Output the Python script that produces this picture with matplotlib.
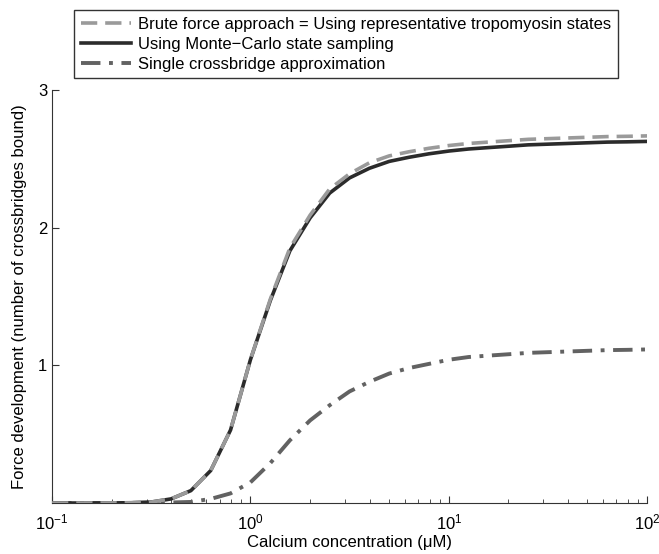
#importing libraries
import numpy as np
import matplotlib.pyplot as plt

plt.rcParams['font.family'] = ['Liberation Sans', 'DejaVu Sans']
plt.rcParams['mathtext.fontset'] = 'custom'
plt.rcParams['mathtext.rm'] = 'Liberation Sans'

#calcium concentrations (uM), ten per decade
calcium = [0.1, 0.126, 0.158, 0.2, 0.251, 0.316, 0.398, 0.501, 0.631, 0.794,
           1.0, 1.26, 1.58, 2.0, 2.51, 3.16, 3.98, 5.01, 6.31, 7.94,
           10.0, 12.6, 15.8, 20.0, 25.1, 31.6, 39.8, 50.1, 63.1, 79.4, 100.0]

#force (number of crossbridges bound)
brute_force = [0, 0, 0, 0.001, 0.002, 0.007, 0.03, 0.09, 0.236, 0.53,
               1.04, 1.48, 1.85, 2.09, 2.28, 2.39, 2.47, 2.52, 2.55, 2.575,
               2.595, 2.61, 2.62, 2.63, 2.64, 2.645, 2.65, 2.655, 2.66, 2.662, 2.665]
monte_carlo = [0, 0, 0, 0.001, 0.002, 0.007, 0.03, 0.09, 0.236, 0.53,
               1.04, 1.47, 1.83, 2.07, 2.25, 2.36, 2.43, 2.48, 2.51, 2.535,
               2.555, 2.57, 2.58, 2.59, 2.60, 2.605, 2.61, 2.615, 2.62, 2.622, 2.625]
single_xb = [0, 0, 0, 0, 0.001, 0.002, 0.004, 0.008, 0.03, 0.07,
             0.15, 0.29, 0.455, 0.60, 0.71, 0.81, 0.88, 0.94, 0.98, 1.01,
             1.04, 1.06, 1.07, 1.08, 1.09, 1.095, 1.10, 1.105, 1.11, 1.112, 1.115]

labels = ['Brute force approach = Using representative tropomyosin states',
          'Using Monte\u2212Carlo state sampling',
          'Single crossbridge approximation']

fig = plt.figure(figsize=(6.59, 5.54), dpi=100)
ax = fig.add_axes([0.079, 0.092, 0.903, 0.746])

#plotting curves
l2, = ax.plot(calcium, monte_carlo, color='#2b2b2b', lw=2.6, zorder=3)
l1, = ax.plot(calcium, brute_force, color='#9a9a9a', lw=2.6, ls=(0, (4.5, 2.2)), zorder=4)
l3, = ax.plot(calcium, single_xb, color='#626262', lw=2.8, ls=(0, (5, 2.2, 1, 2.2)), zorder=2)

ax.set_xscale('log')
ax.set_xlim(0.1, 100)
ax.set_ylim(0, 3)
ax.set_yticks([1, 2, 3])
ax.spines['top'].set_visible(False)
ax.spines['right'].set_visible(False)
for s in ['left', 'bottom']:
    ax.spines[s].set_color('#333333')
ax.tick_params(which='both', direction='in', colors='#333333', labelcolor='black', labelsize=12)
ax.tick_params(which='major', length=5)
ax.tick_params(which='minor', length=3)
ax.tick_params(axis='x', pad=7)

ax.set_xlabel('Calcium concentration (\u03bcM)', fontsize=12, labelpad=2)
ax.set_ylabel('Force development (number of crossbridges bound)', fontsize=12, labelpad=8)

#legend above the axes
leg = fig.legend([l1, l2, l3], labels, loc='upper center', bbox_to_anchor=(0.525, 0.997),
                 fontsize=12, handlelength=3.0, fancybox=False, framealpha=1,
                 edgecolor='#333333', borderpad=0.4, labelspacing=0.3, handletextpad=0.4)
leg.get_frame().set_linewidth(1.0)

plt.savefig('out.png')
